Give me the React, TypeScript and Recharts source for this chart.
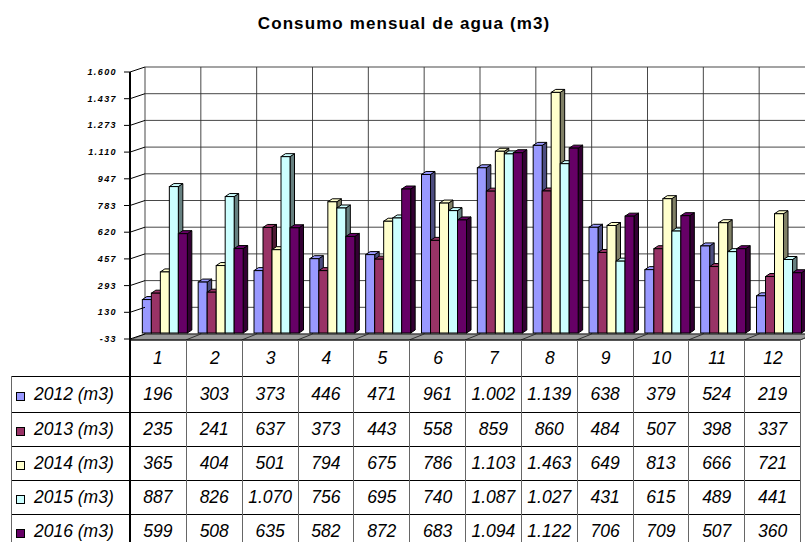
import React from "react"
import { BarChart, Bar, XAxis, YAxis, CartesianGrid } from "recharts"

const months = ["1", "2", "3", "4", "5", "6", "7", "8", "9", "10", "11", "12"]
const v2012 = [196, 303, 373, 446, 471, 961, 1002, 1139, 638, 379, 524, 219]
const v2013 = [235, 241, 637, 373, 443, 558, 859, 860, 484, 507, 398, 337]
const v2014 = [365, 404, 501, 794, 675, 786, 1103, 1463, 649, 813, 666, 721]
const v2015 = [887, 826, 1070, 756, 695, 740, 1087, 1027, 431, 615, 489, 441]
const v2016 = [599, 508, 635, 582, 872, 683, 1094, 1122, 706, 709, 507, 360]

const yTicks = [-33, 130.3, 293.6, 456.9, 620.2, 783.5, 946.8, 1110.1, 1273.4, 1436.7, 1600]
const yTickLabels = ["-33", "130", "293", "457", "620", "783", "947", "1.110", "1.273", "1.437", "1.600"]

const series = [
  { key: "y2012", name: "2012 (m3)", values: v2012, fill: "#9999FF", side: "#4D4D80" },
  { key: "y2013", name: "2013 (m3)", values: v2013, fill: "#993366", side: "#4D1A33" },
  { key: "y2014", name: "2014 (m3)", values: v2014, fill: "#FFFFCC", side: "#808066" },
  { key: "y2015", name: "2015 (m3)", values: v2015, fill: "#CCFFFF", side: "#668080" },
  { key: "y2016", name: "2016 (m3)", values: v2016, fill: "#660066", side: "#330033" },
]

const data = months.map((m, i) => {
  const row: Record<string, any> = { month: m }
  series.forEach((s) => (row[s.key] = s.values[i]))
  return row
})

// layout
const FRONT_X = 130
const BACK_X = 145
const DY = 5
const PLOT_TOP = 67
const PLOT_BOTTOM = 334
const CHART_H = 345
const BAND = 670 / 12
const TABLE_RIGHT = FRONT_X + BAND * 12
const FONT = "'Liberation Sans', Arial, sans-serif"

const fmt = (v: number) =>
  v >= 1000 ? `${Math.floor(v / 1000)}.${String(v % 1000).padStart(3, "0")}` : String(v)

const YTick = (props: any) => {
  const { y, index } = props
  const fy = y + DY
  return (
    <g>
      <line x1={FRONT_X - 6} y1={fy} x2={FRONT_X} y2={fy} stroke="#000" />
      <line x1={FRONT_X} y1={fy} x2={BACK_X} y2={y} stroke="#000" />
      <text
        x={FRONT_X - 13}
        y={fy}
        textAnchor="end"
        dominantBaseline="central"
        fontFamily={FONT}
        fontSize={9}
        fontWeight="bold"
        fontStyle="italic"
        letterSpacing={1.4}
        fill="#000"
      >
        {yTickLabels[index]}
      </text>
    </g>
  )
}

const makeShape = (key: string, side: string) => (props: any) => {
  const { x, y, width, height, fill, payload } = props
  const val = payload[key]
  const extra = val > 0 ? (height / val) * 33 : 0
  const d = 4.5
  const r = 3
  const x0 = x - 8.8
  const top = y + 3
  const bottom = y + height + extra - 1
  return (
    <g stroke="#000" strokeWidth={1}>
      <polygon
        points={`${x0 + width},${top} ${x0 + width + d},${top - r} ${x0 + width + d},${bottom - r} ${x0 + width},${bottom}`}
        fill={side}
      />
      <polygon
        points={`${x0},${top} ${x0 + width},${top} ${x0 + width + d},${top - r} ${x0 + d},${top - r}`}
        fill={fill}
      />
      <rect x={x0} y={top} width={width} height={bottom - top} fill={fill} />
    </g>
  )
}

export default function App() {
  const rowTops = [376, 412, 446, 480, 514, 548]
  return (
    <div
      style={{
        position: "absolute",
        left: 0,
        top: 0,
        width: 805,
        height: 542,
        overflow: "hidden",
        background: "#fff",
        fontFamily: FONT,
      }}
    >
      <div
        style={{
          position: "absolute",
          left: 0,
          top: 14,
          width: 808,
          textAlign: "center",
          fontSize: 17,
          fontWeight: "bold",
          letterSpacing: 1.1,
          color: "#000",
        }}
      >
        Consumo mensual de agua (m3)
      </div>

      {/* floor and front frame */}
      <svg style={{ position: "absolute", left: 0, top: 0 }} width={805} height={542}>
        <polygon
          points={`${FRONT_X},${PLOT_BOTTOM + DY + 1} ${BACK_X},${PLOT_BOTTOM} ${BACK_X + BAND * 12},${PLOT_BOTTOM} ${TABLE_RIGHT},${PLOT_BOTTOM + DY + 1}`}
          fill="#999"
          stroke="#555"
        />
        {months.map((m, i) => (
          <line
            key={m}
            x1={FRONT_X + BAND * (i + 1)}
            y1={PLOT_BOTTOM + DY + 1}
            x2={BACK_X + BAND * (i + 1)}
            y2={PLOT_BOTTOM}
            stroke="#333"
          />
        ))}
        <line x1={FRONT_X} y1={PLOT_TOP + DY} x2={FRONT_X} y2={542} stroke="#000" strokeWidth={2} />
        <line x1={FRONT_X} y1={PLOT_BOTTOM + DY + 1} x2={TABLE_RIGHT} y2={PLOT_BOTTOM + DY + 1} stroke="#000" />
      </svg>

      <div style={{ position: "absolute", left: 0, top: 0 }}>
        <BarChart
          width={820}
          height={CHART_H}
          data={data}
          margin={{ top: PLOT_TOP, right: 5, bottom: CHART_H - PLOT_BOTTOM, left: FRONT_X }}
          barCategoryGap="11%"
          barGap={0}
        >
          <CartesianGrid
            stroke="#333"
            strokeOpacity={0.9}
            verticalCoordinatesGenerator={({ offset }: any) =>
              months.map((_, i) => offset.left + (offset.width / months.length) * i).concat([offset.left + offset.width])
            }
          />
          <XAxis dataKey="month" hide />
          <YAxis
            width={BACK_X - FRONT_X}
            domain={[-33, 1600]}
            ticks={yTicks}
            interval={0}
            axisLine={false}
            tickLine={false}
            tick={<YTick />}
            allowDataOverflow
          />
          {series.map((s) => (
            <Bar
              key={s.key}
              dataKey={s.key}
              name={s.name}
              fill={s.fill}
              isAnimationActive={false}
              shape={makeShape(s.key, s.side)}
            />
          ))}
        </BarChart>
      </div>

      {/* data table */}
      <div style={{ position: "absolute", left: 0, top: 0, width: 805, height: 542, fontStyle: "italic", fontSize: 17.5, color: "#000" }}>
        {months.map((m, i) => (
          <div
            key={m}
            style={{
              position: "absolute",
              left: FRONT_X + BAND * i,
              top: PLOT_BOTTOM + DY + 1,
              width: BAND,
              height: rowTops[0] - (PLOT_BOTTOM + DY + 1),
              display: "flex",
              alignItems: "center",
              justifyContent: "center",
              borderLeft: i === 0 ? "none" : "1px solid #666",
            }}
          >
            {m}
          </div>
        ))}
        <div style={{ position: "absolute", left: TABLE_RIGHT, top: PLOT_BOTTOM + DY + 1, width: 1, height: 542, background: "#666" }} />
        {series.map((s, r) => (
          <React.Fragment key={s.key}>
            <div
              style={{
                position: "absolute",
                left: 11,
                top: rowTops[r],
                width: TABLE_RIGHT - 11,
                height: 1,
                background: "#000",
              }}
            />
            <div
              style={{
                position: "absolute",
                left: 11,
                top: rowTops[r],
                width: FRONT_X - 11,
                height: rowTops[r + 1] - rowTops[r],
                borderLeft: "1px solid #666",
                boxSizing: "border-box",
                display: "flex",
                alignItems: "center",
              }}
            >
              <span
                style={{
                  display: "inline-block",
                  width: 7,
                  height: 7,
                  background: s.fill,
                  border: "1px solid #000",
                  marginLeft: 4,
                  marginRight: 9,
                  marginTop: 4,
                }}
              />
              <span>{s.name}</span>
            </div>
            {s.values.map((v, i) => (
              <div
                key={i}
                style={{
                  position: "absolute",
                  left: FRONT_X + BAND * i,
                  top: rowTops[r],
                  width: BAND,
                  height: rowTops[r + 1] - rowTops[r],
                  display: "flex",
                  alignItems: "center",
                  justifyContent: "center",
                  borderLeft: i === 0 ? "none" : "1px solid #666",
                  boxSizing: "border-box",
                }}
              >
                {fmt(v)}
              </div>
            ))}
          </React.Fragment>
        ))}
      </div>
    </div>
  )
}
